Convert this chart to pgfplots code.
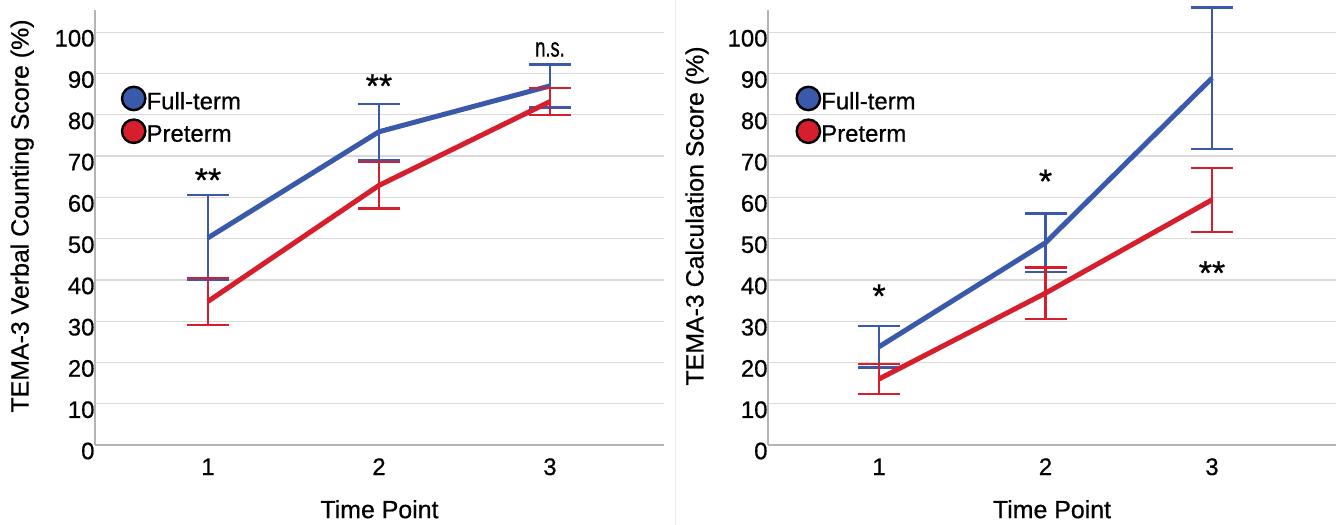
\documentclass[border=0pt]{standalone}
\usepackage{fontspec}
\setmainfont[FakeBold=0.6]{Liberation Sans}
\usepackage{graphicx}
\usepackage{pgfplots}
\pgfplotsset{compat=1.18}
\definecolor{ftblue}{RGB}{59,89,170}
\definecolor{ptred}{RGB}{215,30,45}
\definecolor{gridgray}{RGB}{218,218,218}
\definecolor{axisgray}{RGB}{180,180,180}
\definecolor{sepgray}{RGB}{235,235,235}

\pgfplotstableread{
x  y     e
1  50.2  10.3
2  75.9  6.8
3  87.0  5.2
}\vcfull
\pgfplotstableread{
x  y     e
1  34.8  5.7
2  62.9  5.6
3  83.2  3.3
}\vcpre
\pgfplotstableread{
x  y     e
1  23.8  5.0
2  49.0  7.1
3  88.9  17.1
}\calcfull
\pgfplotstableread{
x  y     e
1  16.0  3.7
2  36.8  6.2
3  59.4  7.8
}\calcpre

\tikzset{sigstar/.style={font=\fontsize{34}{36}\selectfont, anchor=center}}
\pgfplotsset{
  panel/.style={
    scale only axis, height=435.4bp,
    ymin=0, ymax=105.5,
    ytick={0,10,...,100}, xtick={1,2,3},
    axis lines*=left,
    axis line style={draw=axisgray, line width=1.3bp},
    ymajorgrids, grid style={draw=gridgray, line width=1.3bp},
    major tick length=0pt,
    /pgf/number format/assume math mode=true,
    tick label style={font=\fontsize{24}{28}\selectfont},
    yticklabel style={xshift=3bp, yshift=-6bp},
    xticklabel style={anchor=base, yshift=-30bp},
    label style={font=\fontsize{25}{30}\selectfont},
    xlabel={Time Point},
    xlabel style={at={(axis description cs:0.5,-0.168)}, anchor=base},
    clip=false,
    legend cell align=left,
    legend style={draw=none, fill=none, inner sep=0pt,
      font=\fontsize{24}{28}\selectfont, nodes={inner sep=0pt},
      row sep=7bp, /tikz/every even column/.append style={column sep=3bp}},
  },
  ebar/.style={line width=5bp, color=#1, mark=none,
    error bars/y dir=both, error bars/y explicit,
    error bars/error bar style={line width=2.3bp, color=#1},
    error bars/error mark options={line width=2.3bp, mark size=21bp, color=#1, rotate=90}},
}

\begin{document}
\begin{tikzpicture}
\useasboundingbox (0,0) rectangle (1336bp,525bp);
\draw[sepgray, line width=1.5bp] (675.7bp,0) -- (675.7bp,525bp);

\begin{axis}[panel, at={(95bp,80bp)}, anchor=south west,
  width=569bp, xmin=0.339, xmax=3.667,
  ylabel={TEMA-3 Verbal Counting Score (\%)},
  ylabel style={at={(axis description cs:-0.128,0.526)}, anchor=center},
  legend style={at={(axis description cs:0.045,0.826)}, anchor=north west}]
\addplot[forget plot, ebar=ftblue] table[x=x, y=y, y error=e] {\vcfull};
\addplot[forget plot, ebar=ptred] table[x=x, y=y, y error=e] {\vcpre};
\addlegendimage{legend image code/.code={\draw[fill=ftblue, draw=black, line width=2.4bp] (11.7bp,0.3em) circle (11.7bp);}}
\addlegendentry{Full-term}
\addlegendimage{legend image code/.code={\draw[fill=ptred, draw=black, line width=2.4bp] (11.7bp,0.3em) circle (11.7bp);}}
\addlegendentry{Preterm}
\node[sigstar] at (axis cs:1,64.2) {**};
\node[sigstar] at (axis cs:2,87.0) {**};
\node[anchor=base, font=\fontsize{27}{29}\selectfont] at (axis cs:3,94.1) {\scalebox{0.68}[1]{n.s.}};
\end{axis}

\begin{axis}[panel, at={(768bp,80bp)}, anchor=south west,
  width=568bp, xmin=0.333, xmax=3.745,
  ylabel={TEMA-3 Calculation Score (\%)},
  ylabel style={at={(axis description cs:-0.125,0.526)}, anchor=center},
  legend style={at={(axis description cs:0.048,0.826)}, anchor=north west}]
\addplot[forget plot, ebar=ftblue] table[x=x, y=y, y error=e] {\calcfull};
\addplot[forget plot, ebar=ptred] table[x=x, y=y, y error=e] {\calcpre};
\addlegendimage{legend image code/.code={\draw[fill=ftblue, draw=black, line width=2.4bp] (11.7bp,0.3em) circle (11.7bp);}}
\addlegendentry{Full-term}
\addlegendimage{legend image code/.code={\draw[fill=ptred, draw=black, line width=2.4bp] (11.7bp,0.3em) circle (11.7bp);}}
\addlegendentry{Preterm}
\node[sigstar] at (axis cs:1,36.1) {*};
\node[sigstar] at (axis cs:2,63.9) {*};
\node[sigstar] at (axis cs:3,41.7) {**};
\end{axis}
\end{tikzpicture}
\end{document}
